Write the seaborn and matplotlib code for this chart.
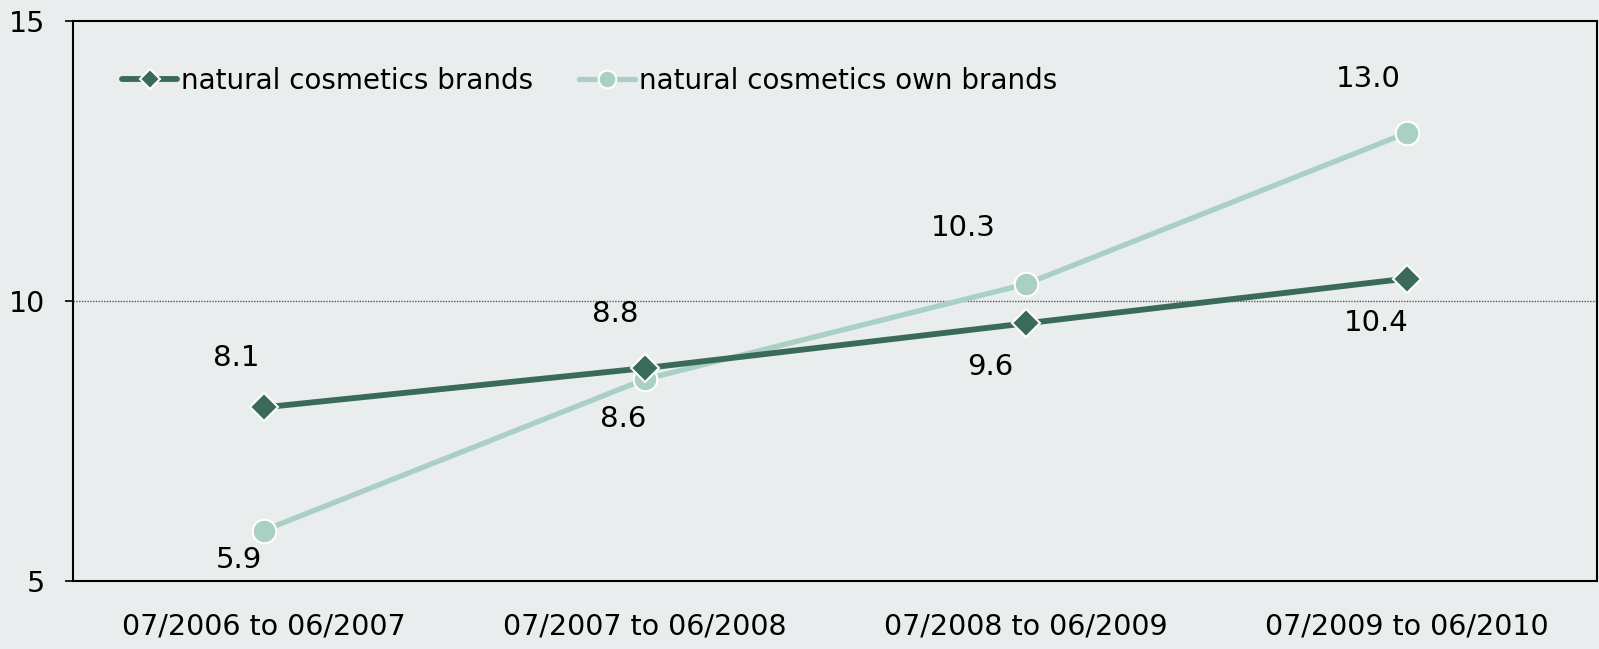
import matplotlib
matplotlib.use("Agg")
import matplotlib.pyplot as plt
import seaborn as sns
import pandas as pd

periods = ["07/2006 to 06/2007", "07/2007 to 06/2008", "07/2008 to 06/2009", "07/2009 to 06/2010"]
series_names = ["natural cosmetics brands", "natural cosmetics own brands"]
brands = [8.1, 8.8, 9.6, 10.4]
own_brands = [5.9, 8.6, 10.3, 13.0]
y_ticks = [5, 10, 15]

# label offsets in pixels (dx, dy) - layout only
brand_offsets = [(-27, 49), (-29, 54), (-35, -44), (-30, -44)]
own_offsets = [(-25, -29), (-21, -40), (-62, 56), (-38, 54)]

dark = "#3A6A5A"
light = "#AAD0C5"
bg = "#E9EDEE"

sns.set_theme(style="white")
plt.rcParams["font.family"] = ["DejaVu Sans"]
plt.rcParams["text.color"] = "black"

df = pd.DataFrame({
    "period": periods * 2,
    "x": list(range(len(periods))) * 2,
    "value": brands + own_brands,
    "series": [series_names[0]] * 4 + [series_names[1]] * 4,
})

fig = plt.figure(figsize=(15.99, 6.49), dpi=100, facecolor=bg)
ax = fig.add_axes([73 / 1599, 68 / 649, (1597 - 73) / 1599, 560 / 649])
ax.set_facecolor(bg)

ax.axhline(10, color="#555555", lw=1.0, ls=(0, (1, 1)), zorder=1)

sns.lineplot(
    data=df[df.series == series_names[0]], x="x", y="value", ax=ax,
    color=dark, lw=4.2, marker="D", markersize=14,
    markeredgecolor="white", markeredgewidth=1.5, label=series_names[0], zorder=3,
    solid_capstyle="round",
)
sns.lineplot(
    data=df[df.series == series_names[1]], x="x", y="value", ax=ax,
    color=light, lw=3.8, marker="o", markersize=17,
    markeredgecolor="white", markeredgewidth=1.5, label=series_names[1], zorder=2,
    solid_capstyle="round",
)

for i, v in enumerate(brands):
    dx, dy = brand_offsets[i]
    ax.annotate(f"{v:.1f}", (i, v), xytext=(dx, dy), textcoords="offset pixels",
                ha="center", va="center", fontsize=21, color="black")
for i, v in enumerate(own_brands):
    dx, dy = own_offsets[i]
    ax.annotate(f"{v:.1f}", (i, v), xytext=(dx, dy), textcoords="offset pixels",
                ha="center", va="center", fontsize=21, color="black")

ax.set_xlim(-0.5, 3.5)
ax.set_ylim(5, 15)
ax.set_xticks(range(len(periods)))
ax.set_xticklabels(periods)
ax.set_yticks(y_ticks)
ax.set_yticklabels([str(t) for t in y_ticks])
ax.set_xlabel("")
ax.set_ylabel("")
ax.tick_params(axis="x", length=0, pad=23, labelsize=20.5, colors="black")
ax.tick_params(axis="y", length=6, width=1.2, pad=14, labelsize=20.5, colors="black", left=True, direction="out")
for s in ax.spines.values():
    s.set_color("black")
    s.set_linewidth(1.5)
    s.set_visible(True)

leg = ax.legend(loc="center left", bbox_to_anchor=(0.032, 0.893), ncol=2, frameon=False,
                fontsize=20, handlelength=2.0, handletextpad=0.15, columnspacing=1.65,
                borderpad=0, borderaxespad=0, markerscale=0.75)
for t in leg.get_texts():
    t.set_color("black")

fig.savefig("out.png", dpi=100, facecolor=bg)
